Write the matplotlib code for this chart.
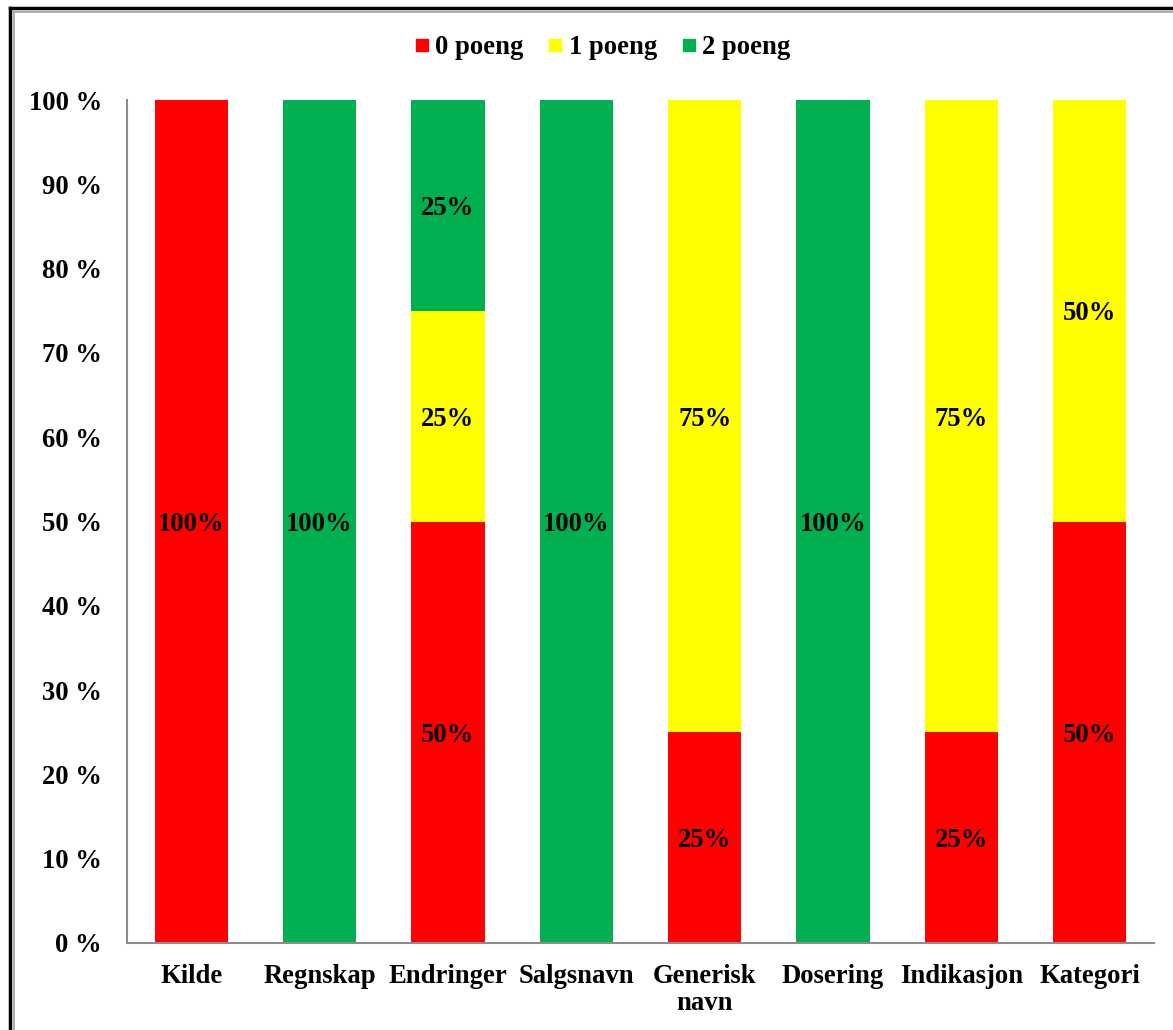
import matplotlib
matplotlib.use("Agg")
import matplotlib.pyplot as plt
from matplotlib.lines import Line2D
import numpy as np

categories = ["Kilde", "Regnskap", "Endringer", "Salgsnavn", "Generisk\nnavn",
              "Dosering", "Indikasjon", "Kategori"]
p0 = [100, 0, 50, 0, 25, 0, 25, 50]
p1 = [0, 0, 25, 0, 75, 0, 75, 50]
p2 = [0, 100, 25, 100, 0, 100, 0, 0]
series_names = ["0 poeng", "1 poeng", "2 poeng"]
colors = ["#FF0000", "#FFFF00", "#00B050"]
yticks = [0, 10, 20, 30, 40, 50, 60, 70, 80, 90, 100]

plt.rcParams['font.family'] = ['Liberation Serif', 'DejaVu Serif']
plt.rcParams['font.weight'] = 'bold'

FS = 19.2
W, H = 1173, 1030
fig = plt.figure(figsize=(W / 100, H / 100), dpi=100)
ax = fig.add_axes([127 / W, 1 - 943 / H, (1154 - 127) / W, (943 - 100) / H])

x = np.arange(len(categories))
bottom = np.zeros(len(categories))
for vals, c, name in zip([p0, p1, p2], colors, series_names):
    vals = np.array(vals, dtype=float)
    ax.bar(x, vals, width=0.57, bottom=bottom, color=c, label=name)
    for xi, v, b in zip(x, vals, bottom):
        if v > 0:
            ax.text(xi, b + v / 2, f"{int(v)}%", ha='center', va='center_baseline',
                    fontsize=FS, fontweight='bold', color='black')
    bottom += vals

ax.set_xlim(-0.5, len(categories) - 0.5)
ax.set_ylim(0, 100)
ax.set_yticks(yticks)
ax.set_yticklabels([f"{t} %" for t in yticks])
ax.set_xticks(x)
ax.set_xticklabels(categories, linespacing=1.1)
ax.tick_params(axis='both', length=0, labelsize=FS)
ax.tick_params(axis='y', pad=18)
ax.tick_params(axis='x', pad=15)
for lab in ax.get_xticklabels() + ax.get_yticklabels():
    lab.set_fontweight('bold')
for s in ['top', 'right']:
    ax.spines[s].set_visible(False)
for s in ['left', 'bottom']:
    ax.spines[s].set_color('#8c8c8c')
    ax.spines[s].set_linewidth(1.5)

handles = [Line2D([], [], marker='s', linestyle='none', markersize=8.5,
                  markerfacecolor=c, markeredgecolor=c) for c in colors]
fig.legend(handles, series_names, loc='center', bbox_to_anchor=(602 / W, 1 - 48 / H),
           ncol=3, frameon=False, handlelength=0.6, handletextpad=0.2,
           columnspacing=0.9, prop={'weight': 'bold', 'size': FS})

# figure border
fig.add_artist(Line2D([10 / W, 10 / W], [0, 1 - 8 / H], color='black', lw=2.5, transform=fig.transFigure))
fig.add_artist(Line2D([10 / W, 1], [1 - 8 / H, 1 - 8 / H], color='black', lw=2.5, transform=fig.transFigure))
fig.add_artist(Line2D([13.5 / W, 13.5 / W], [0, 1 - 11.5 / H], color='#a0a0a0', lw=1.2, transform=fig.transFigure))
fig.add_artist(Line2D([13.5 / W, 1], [1 - 11.5 / H, 1 - 11.5 / H], color='#a0a0a0', lw=1.2, transform=fig.transFigure))

fig.savefig("out.png", dpi=100)
